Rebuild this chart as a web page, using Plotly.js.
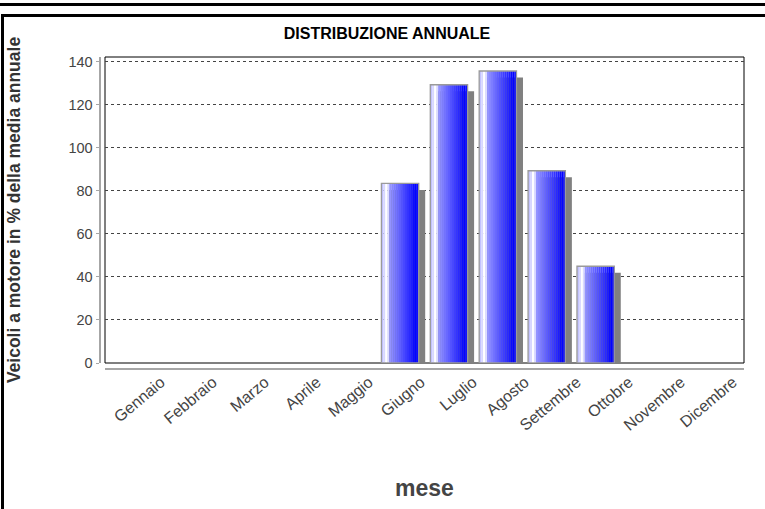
<!DOCTYPE html>
<html><head><meta charset="utf-8">
<script src="https://cdn.plot.ly/plotly-3.0.1.min.js"></script>
<style>html,body{margin:0;padding:0;background:#fff;}#chart{width:765px;height:509px;}</style>
</head><body><div id="chart"></div>
<script>
// ---- data ----
const months = ['Gennaio','Febbraio','Marzo','Aprile','Maggio','Giugno','Luglio','Agosto','Settembre','Ottobre','Novembre','Dicembre'];
const values = [0, 0, 0, 0, 0, 83.5, 129.4, 135.8, 89.4, 45.0, 0, 0];
const yTicks = [0, 20, 40, 60, 80, 100, 120, 140];
const chartTitle = 'DISTRIBUZIONE ANNUALE';
const xTitle = 'mese';
const yTitle = 'Veicoli a motore in % della media annuale';

// ---- geometry / style ----
const W = 765, H = 509;
const M = {l: 90, r: 21, t: 57, b: 140};
const PW = W - M.l - M.r, PH = H - M.t - M.b;
const px2x = p => (p - M.l) / PW;
const py2y = p => 1 - (p - M.t) / PH;
const yMax = 142.3;
const xRange = [-1.035, 12.035];
const barW = 0.763;
const unitPx = (744 - 105) / (xRange[1] - xRange[0]);
const valPx = (363 - 57) / yMax;
const shadowPx = 6.5;
// label axis: labels are laid out on a slightly wider pitch than the bars
const lblFirst = 161, lblLast = 733, lblPitch = (lblLast - lblFirst) / (months.length - 1);
const lblRange = [-(lblFirst - 105) / lblPitch, (months.length - 1) + (744 - lblLast) / lblPitch];
const font = 'Liberation Sans, Arial, sans-serif';

const shown = values.map(v => v > 0 ? v : null);
const monthIdx = months.map((m, i) => i);

const traces = [];
// shadow
traces.push({
  type: 'bar', x: months, y: values.map(v => v > 0 ? v - shadowPx / valPx : null),
  width: barW, offset: -barW / 2 + shadowPx / unitPx,
  marker: {color: '#808080', line: {width: 0}}, hoverinfo: 'skip', showlegend: false
});
// gradient strips
const stops = [
  [0.00, [184,184,255]], [0.08, [215,215,255]], [0.13, [255,255,255]], [0.18, [226,226,255]],
  [0.23, [148,148,255]], [0.80, [34,34,255]], [0.90, [0,0,255]], [1.00, [16,16,255]]
];
function colAt(t) {
  for (let i = 1; i < stops.length; i++) {
    if (t <= stops[i][0]) {
      const a = stops[i-1], b = stops[i];
      const f = (t - a[0]) / (b[0] - a[0]);
      const c = a[1].map((v, k) => Math.round(v + (b[1][k] - v) * f));
      return 'rgb(' + c.join(',') + ')';
    }
  }
  return 'rgb(' + stops[stops.length-1][1].join(',') + ')';
}
const N = 19, sw = barW / N;
for (let i = 0; i < N; i++) {
  traces.push({
    type: 'bar', x: months, y: shown,
    width: sw * 1.05, offset: -barW / 2 + i * sw,
    marker: {color: colAt((i + 0.5) / N), line: {width: 0}},
    hoverinfo: 'skip', showlegend: false
  });
}
// outline
traces.push({
  type: 'bar', x: months, y: shown, width: barW, offset: -barW / 2,
  marker: {color: 'rgba(0,0,0,0)', line: {color: '#9a9a9a', width: 1.3}},
  hoverinfo: 'skip', showlegend: false
});
// invisible carrier trace for the month-label axis
traces.push({
  type: 'scatter', mode: 'markers', x: monthIdx, y: shown, xaxis: 'x2', yaxis: 'y',
  marker: {opacity: 0, size: 1}, hoverinfo: 'skip', showlegend: false
});

const layout = {
  width: W, height: H, margin: M,
  paper_bgcolor: '#fff', plot_bgcolor: '#fff',
  barmode: 'overlay', showlegend: false,
  font: {family: font, color: '#444'},
  title: {text: chartTitle, x: 387 / W, xref: 'container', xanchor: 'center',
          y: 1 - 33 / H, yref: 'container', yanchor: 'middle',
          font: {family: font, size: 16, color: '#000', weight: 'bold'}},
  xaxis: {
    type: 'category', domain: [px2x(105), 1], range: xRange,
    anchor: 'free', position: 0,
    showline: true, linecolor: '#a6a6a6', linewidth: 2,
    ticks: '', showgrid: false, zeroline: false, showticklabels: false
  },
  xaxis2: {
    type: 'linear', overlaying: 'x', domain: [px2x(105), 1], range: lblRange,
    anchor: 'free', position: 0, side: 'bottom',
    showline: false, ticks: '', showgrid: false, zeroline: false,
    tickvals: monthIdx, ticktext: months,
    tickangle: -40, tickfont: {family: font, size: 16, color: '#444'},
    title: {text: xTitle, font: {family: font, size: 23, color: '#444', weight: 'bold'}, standoff: 47}
  },
  yaxis: {
    domain: [py2y(363), 1], range: [0, yMax],
    anchor: 'free', position: px2x(99.5),
    showline: true, linecolor: '#a6a6a6', linewidth: 2,
    ticks: 'outside', ticklen: 3, tickcolor: '#a6a6a6', tickwidth: 1,
    tickvals: yTicks, ticktext: yTicks.map(String),
    tickfont: {family: font, size: 14.5, color: '#444'},
    showgrid: true, gridcolor: '#444', gridwidth: 1, griddash: '3px,3px',
    zeroline: false,
    title: {text: yTitle, font: {family: font, size: 17.5, color: '#333', weight: 'bold'}, standoff: 42}
  },
  shapes: [
    {type: 'rect', xref: 'x domain', yref: 'y domain', x0: 0, x1: 1, y0: 0, y1: 1,
     line: {color: '#000', width: 1}, layer: 'below'},
    {type: 'line', xref: 'paper', yref: 'paper', x0: px2x(0), x1: px2x(W), y0: py2y(4.5), y1: py2y(4.5),
     line: {color: '#000', width: 3}},
    {type: 'line', xref: 'paper', yref: 'paper', x0: px2x(1), x1: px2x(W), y0: py2y(15.5), y1: py2y(15.5),
     line: {color: '#000', width: 3}},
    {type: 'line', xref: 'paper', yref: 'paper', x0: px2x(2.5), x1: px2x(2.5), y0: py2y(14), y1: py2y(H),
     line: {color: '#000', width: 3}}
  ]
};

Plotly.newPlot('chart', traces, layout, {staticPlot: true, displayModeBar: false});
</script>
</body></html>
